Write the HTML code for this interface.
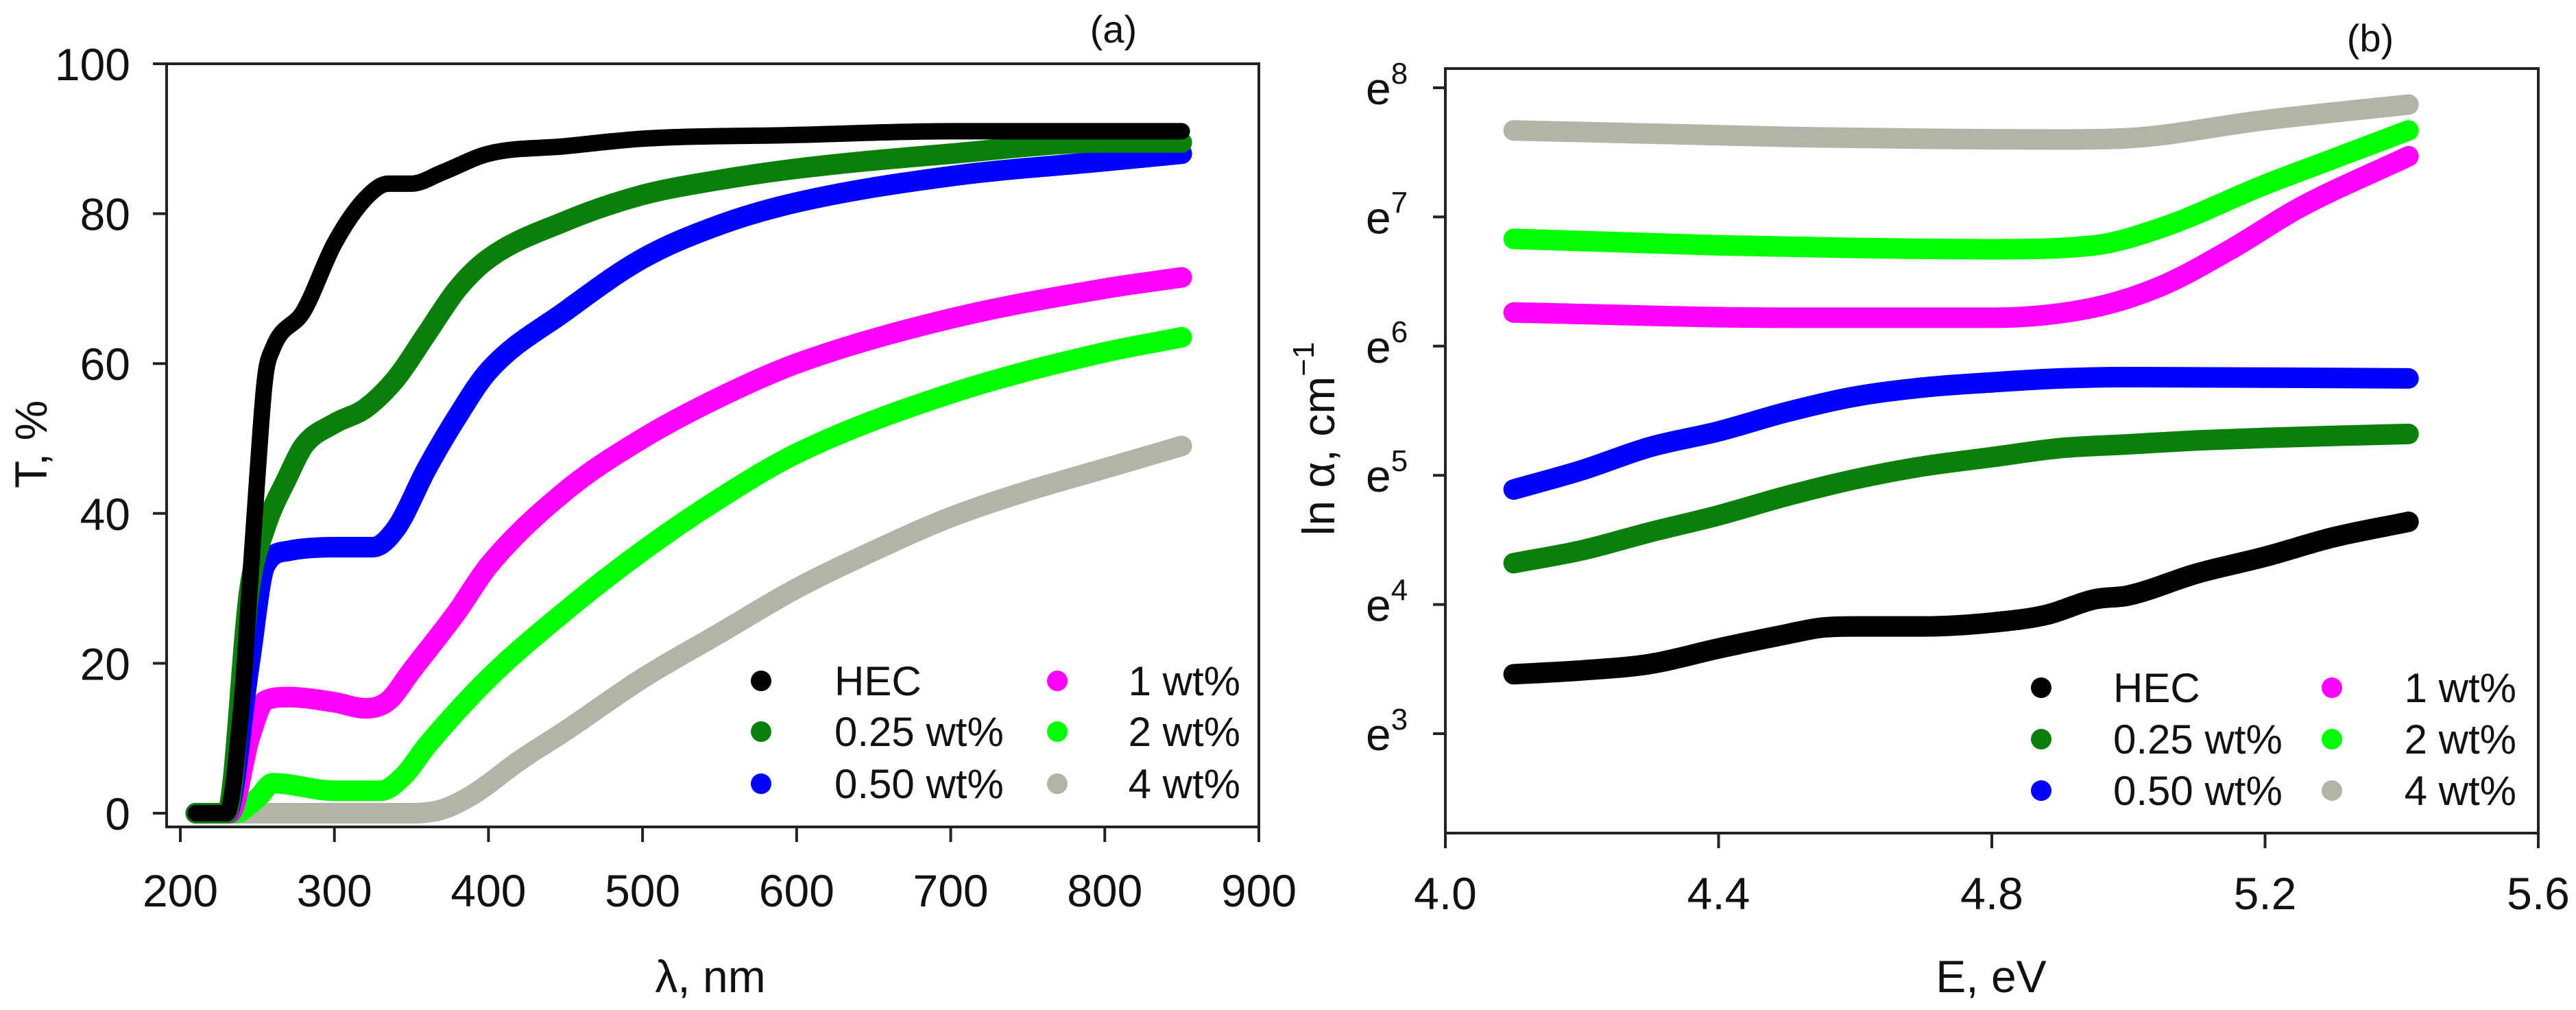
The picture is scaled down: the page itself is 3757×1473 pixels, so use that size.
<!DOCTYPE html>
<html><head><meta charset="utf-8"><style>
html,body{margin:0;padding:0;background:#fff;}
svg{display:block;font-family:"Liberation Sans",Arial,sans-serif;}
</style></head><body>
<svg id="fig" width="3757" height="1473" viewBox="0 0 3757 1473" xmlns="http://www.w3.org/2000/svg">
<rect width="3757" height="1473" fill="#fff"/>
<g id="pa"></g>
<g id="pb"></g>
</svg>
<script>
// ---------- Panel (a) data ----------
const seriesNames = ["HEC","0.25 wt%","0.50 wt%","1 wt%","2 wt%","4 wt%"];
const seriesColors = ["#000000","#0a800a","#0000ff","#ff00ff","#00ff00","#b4b3a8"];
const aXTicks = [200,300,400,500,600,700,800,900];
const aYTicks = [0,20,40,60,80,100];
const aHECx = [210,230,240,245,250,255,260,280,300,320,335,350,370,400,450,500,600,700,800,850];
const aHECy = [0,0,15,30,45,58,62,67,76,82,84,84,85.5,88,89,90,90.5,91,91,91];
const a025x = [210,230,245,255,270,280,300,320,340,360,380,400,450,500,550,600,700,800,850];
const a025y = [0,0,30,38,45,49,52,54,58,64,70,74,79,82.5,84.5,86,88,89.5,89.5];
const a050x = [210,230,245,255,270,300,325,340,360,380,400,450,500,550,600,700,800,850];
const a050y = [0,0,20,33,35,35.5,35.5,38,46,53,59,67,74,78.5,81.5,85,87,88];
const a1x = [210,232,245,255,270,300,320,335,350,380,400,450,500,550,600,700,800,850];
const a1y = [0,0,10,15,15.5,14.8,14,15,19,27,33,43,50,55.5,60,66,70,71.5];
const a2x = [210,235,250,260,300,330,345,360,400,450,500,550,600,700,800,850];
const a2y = [0,0,2,4,3,3,5,9,18,27,35,42,48,56,61.5,63.5];
const a4x = [210,350,370,390,420,450,500,550,600,650,700,750,800,850];
const a4y = [0,0,0.5,2.5,7,11,18,24,30,35,39.5,43,46,49];
// ---------- Panel (b) data ----------
const bXTicks = [4.0,4.4,4.8,5.2,5.6];
const bYTicks = [3,4,5,6,7,8];
const bHECx = [4.1,4.2,4.3,4.4,4.5,4.55,4.6,4.7,4.8,4.88,4.95,5.0,5.1,5.2,5.3,5.41];
const bHECy = [3.46,3.49,3.54,3.66,3.77,3.82,3.83,3.83,3.86,3.92,4.04,4.07,4.24,4.37,4.52,4.64];
const b025x = [4.1,4.2,4.3,4.4,4.5,4.6,4.7,4.8,4.9,5.0,5.1,5.2,5.41];
const b025y = [4.32,4.42,4.56,4.69,4.84,4.97,5.07,5.14,5.21,5.24,5.27,5.29,5.32];
const b050x = [4.1,4.2,4.3,4.4,4.5,4.6,4.7,4.8,4.9,5.0,5.41];
const b050y = [4.89,5.04,5.22,5.34,5.49,5.61,5.68,5.72,5.75,5.76,5.75];
const b1x = [4.1,4.5,4.8,4.95,5.05,5.15,5.25,5.41];
const b1y = [6.26,6.22,6.22,6.30,6.47,6.75,7.07,7.47];
const b2x = [4.1,4.4,4.6,4.8,4.95,5.05,5.2,5.3,5.41];
const b2y = [6.83,6.78,6.76,6.75,6.78,6.92,7.25,7.45,7.67];
const b4x = [4.1,4.5,4.9,5.0,5.2,5.41];
const b4y = [7.67,7.62,7.60,7.61,7.75,7.87];

const NS="http://www.w3.org/2000/svg";
function mk(tag,attrs,parent){const e=document.createElementNS(NS,tag);for(const k in attrs)e.setAttribute(k,attrs[k]);parent.appendChild(e);return e;}
// monotone cubic (Fritsch-Carlson) path through pixel points with increasing x
function smooth(p){
  const n=p.length,d=[],m=[];
  for(let i=0;i<n-1;i++)d.push((p[i+1][1]-p[i][1])/(p[i+1][0]-p[i][0]));
  m[0]=d[0];m[n-1]=d[n-2];
  for(let i=1;i<n-1;i++){m[i]=(d[i-1]*d[i]<=0)?0:(d[i-1]+d[i])/2;}
  for(let i=0;i<n-1;i++){
    if(d[i]===0){m[i]=0;m[i+1]=0;continue;}
    const a=m[i]/d[i],b=m[i+1]/d[i],s=a*a+b*b;
    if(s>9){const t=3/Math.sqrt(s);m[i]=t*a*d[i];m[i+1]=t*b*d[i];}
  }
  let s="M"+p[0][0].toFixed(1)+","+p[0][1].toFixed(1);
  for(let i=0;i<n-1;i++){
    const h=(p[i+1][0]-p[i][0])/3;
    s+="C"+(p[i][0]+h).toFixed(1)+","+(p[i][1]+m[i]*h).toFixed(1)+" "+(p[i+1][0]-h).toFixed(1)+","+(p[i+1][1]-m[i+1]*h).toFixed(1)+" "+p[i+1][0].toFixed(1)+","+p[i+1][1].toFixed(1);
  }
  return s;
}

// ---------- Panel a ----------
(function(){
const g=document.getElementById('pa');
const L=243,R=1836,T=93,B=1206;
const xS=v=>263+(v-200)*(R-263)/700;
const yS=v=>1186-v*(1186-93)/100;
const xs=[a4x,a2x,a1x,a050x,a025x,aHECx], ys=[a4y,a2y,a1y,a050y,a025y,aHECy];
const order=[5,4,3,2,1,0];
for(let k=0;k<6;k++){
  const si=order[k];
  const pts=xs[k].map((x,i)=>[xS(x),yS(ys[k][i])]);
  const p=mk('path',{d:smooth(pts),fill:'none',stroke:seriesColors[si],'stroke-width':si===0?24:30,'stroke-linecap':'round','stroke-linejoin':'round'},g);
  
  
}
const fr=mk('rect',{x:L,y:T,width:R-L,height:B-T,fill:'none',stroke:'#222','stroke-width':4},g);


aXTicks.forEach(v=>{
  mk('line',{x1:xS(v),x2:xS(v),y1:B,y2:B+22,stroke:'#222','stroke-width':4},g);
  const t=mk('text',{x:xS(v),y:1322,'font-size':66,'text-anchor':'middle',fill:'#111'},g);
  t.textContent=v;
  
  
});
aYTicks.forEach(v=>{
  mk('line',{x1:L-20,x2:L,y1:yS(v),y2:yS(v),stroke:'#222','stroke-width':4},g);
  const t=mk('text',{x:190,y:yS(v)+24,'font-size':66,'text-anchor':'end',fill:'#111'},g);
  t.textContent=v;
  
  
});
let t=mk('text',{x:1036,y:1447,'font-size':66,'text-anchor':'middle',fill:'#111'},g);
t.textContent='λ, nm';


t=mk('text',{x:0,y:0,'font-size':66,'text-anchor':'middle',fill:'#111',transform:'translate(68,648) rotate(-90)'},g);
t.textContent='T, %';


t=mk('text',{x:1624,y:62,'font-size':56,'text-anchor':'middle',fill:'#111'},g);
t.textContent='(a)';


const rows=[993,1067,1143];
seriesNames.forEach((n,i)=>{
  const col=Math.floor(i/3),r=i%3;
  const c=mk('circle',{cx:col?1542:1110,cy:rows[r],r:15,fill:seriesColors[i]},g);
  
  
  const tx=mk('text',{x:col?1809:1217,y:rows[r]+21,'font-size':60,'text-anchor':col?'end':'start',fill:'#111'},g);
  tx.textContent=n;
  
  
});
})();

// ---------- Panel b ----------
(function(){
const g=document.getElementById('pb');
const L=2108,R=3702,T=100,B=1215;
const xS=v=>L+(v-4.0)*(R-L)/1.6;
const yS=v=>128+(8-v)*(1070-128)/5;
const xs=[b4x,b2x,b1x,b050x,b025x,bHECx], ys=[b4y,b2y,b1y,b050y,b025y,bHECy];
const order=[5,4,3,2,1,0];
for(let k=0;k<6;k++){
  const si=order[k];
  const pts=xs[k].map((x,i)=>[xS(x),yS(ys[k][i])]);
  const p=mk('path',{d:smooth(pts),fill:'none',stroke:seriesColors[si],'stroke-width':30,'stroke-linecap':'round','stroke-linejoin':'round'},g);
  
  
}
const fr=mk('rect',{x:L,y:T,width:R-L,height:B-T,fill:'none',stroke:'#222','stroke-width':4},g);


bXTicks.forEach(v=>{
  mk('line',{x1:xS(v),x2:xS(v),y1:B,y2:B+22,stroke:'#222','stroke-width':4},g);
  const t=mk('text',{x:xS(v),y:1326,'font-size':66,'text-anchor':'middle',fill:'#111'},g);
  t.textContent=v.toFixed(1);
  
  
});
bYTicks.forEach(v=>{
  mk('line',{x1:L-18,x2:L,y1:yS(v),y2:yS(v),stroke:'#222','stroke-width':4},g);
  const t=mk('text',{x:1992,y:yS(v)+24,'font-size':66,fill:'#111'},g);
  t.textContent='e';
  const s=mk('tspan',{'font-size':44,dy:-30},t);
  s.textContent=v;
  
  
});
let t=mk('text',{x:2904,y:1447,'font-size':66,'text-anchor':'middle',fill:'#111'},g);
t.textContent='E, eV';


t=mk('text',{x:0,y:0,'font-size':66,'text-anchor':'middle',fill:'#111',transform:'translate(1946,640) rotate(-90)'},g);
t.textContent='ln α, cm';
const sup=mk('tspan',{'font-size':44,dy:-30},t);
sup.textContent='−1';


t=mk('text',{x:3457,y:75,'font-size':56,'text-anchor':'middle',fill:'#111'},g);
t.textContent='(b)';


const rows=[1003,1078,1153];
seriesNames.forEach((n,i)=>{
  const col=Math.floor(i/3),r=i%3;
  const c=mk('circle',{cx:col?3401:2977,cy:rows[r],r:15,fill:seriesColors[i]},g);
  
  
  const tx=mk('text',{x:col?3670:3082,y:rows[r]+21,'font-size':60,'text-anchor':col?'end':'start',fill:'#111'},g);
  tx.textContent=n;
  
  
});
})();
</script>
</body></html>
